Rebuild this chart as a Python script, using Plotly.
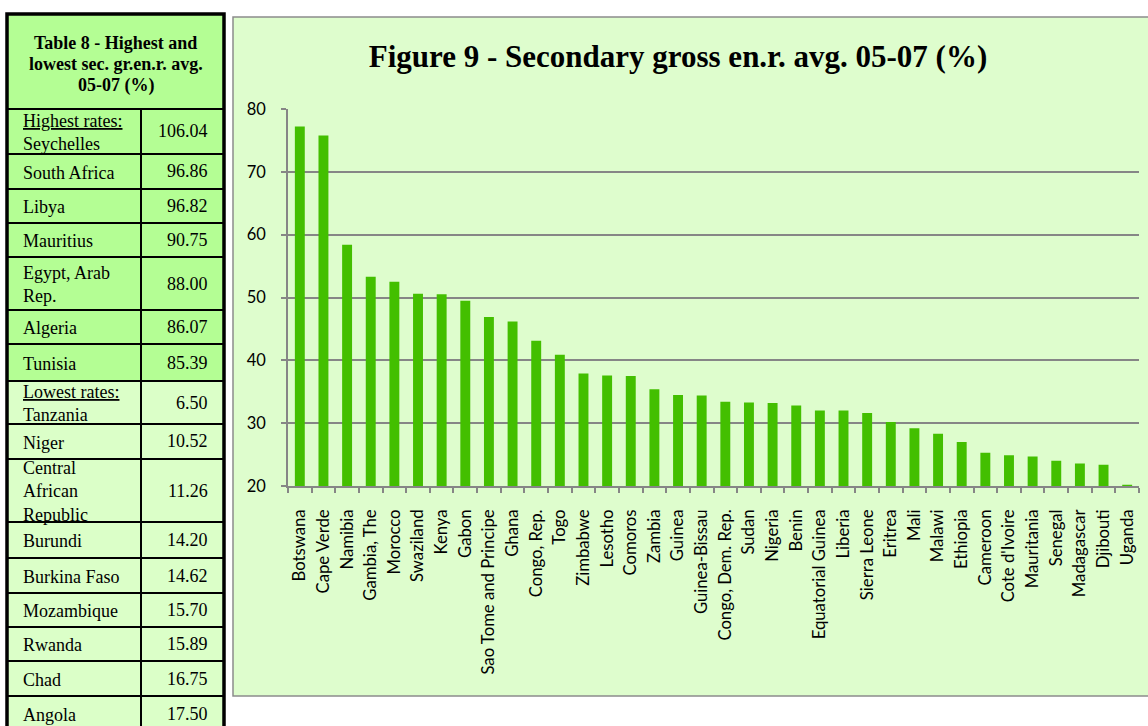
import textwrap
import plotly.graph_objects as go

# ---- Figure 9 data: secondary gross enrolment rate, average 2005-07 (%) ----
countries = [
    "Botswana", "Cape Verde", "Namibia", "Gambia, The", "Morocco", "Swaziland",
    "Kenya", "Gabon", "Sao Tome and Principe", "Ghana", "Congo, Rep.", "Togo",
    "Zimbabwe", "Lesotho", "Comoros", "Zambia", "Guinea", "Guinea-Bissau",
    "Congo, Dem. Rep.", "Sudan", "Nigeria", "Benin", "Equatorial Guinea",
    "Liberia", "Sierra Leone", "Eritrea", "Mali", "Malawi", "Ethiopia",
    "Cameroon", "Cote d'Ivoire", "Mauritania", "Senegal", "Madagascar",
    "Djibouti", "Uganda",
]
rates = [
    77.2, 75.8, 58.4, 53.3, 52.5, 50.6,
    50.5, 49.5, 46.9, 46.2, 43.1, 40.9,
    37.9, 37.6, 37.5, 35.4, 34.5, 34.4,
    33.4, 33.3, 33.2, 32.8, 32.0,
    32.0, 31.6, 30.2, 29.2, 28.3, 27.0,
    25.3, 24.9, 24.7, 24.0, 23.6,
    23.4, 20.2,
]
y_ticks = [20, 30, 40, 50, 60, 70, 80]

# ---- Table 8 data: highest and lowest rates ----
table_title = ["Table 8 - Highest and", "lowest sec. gr.en.r. avg.", "05-07 (%)"]
highest_countries = ["Seychelles", "South Africa", "Libya", "Mauritius",
                     "Egypt, Arab Rep.", "Algeria", "Tunisia"]
highest_rates = [106.04, 96.86, 96.82, 90.75, 88.00, 86.07, 85.39]
lowest_countries = ["Tanzania", "Niger", "Central African Republic", "Burundi",
                    "Burkina Faso", "Mozambique", "Rwanda", "Chad", "Angola"]
lowest_rates = [6.50, 10.52, 11.26, 14.20, 14.62, 15.70, 15.89, 16.75, 17.50]

# ---- page geometry (pixels) ----
W, H = 1148, 726


def px(x):
    return x / W


def py(y):
    return 1 - y / H


GRID = "#868686"
BAR = "#43BF00"
PANEL_BG = "#DEFDCD"
HI_BG = "#B4FE94"
LO_BG = "#DBFFC8"
SERIF = "Liberation Serif, Times New Roman, serif"
SANS = "Lato, Calibri, sans-serif"

fig = go.Figure()
fig.add_trace(go.Bar(
    x=countries, y=rates, marker=dict(color=BAR, line=dict(width=0)),
    hoverinfo="x+y",
))

shapes = []
annotations = []

# chart panel
shapes.append(dict(type="rect", xref="paper", yref="paper", layer="below",
                   x0=px(233), x1=px(1150), y0=py(17), y1=py(696),
                   fillcolor=PANEL_BG, line=dict(color="#8C8C8C", width=1.5)))

# ---- table ----
T_LEFT, T_RIGHT, T_DIV = 7, 224, 141
T_TOP, HEAD_BOTTOM = 14, 109


def cell_text(name, group=None):
    lines = textwrap.wrap(name, 12)
    if group:
        lines = ["<u>" + group + "</u>"] + lines
    return "<br>".join(lines)


rows = []
for i, (c, v) in enumerate(zip(highest_countries, highest_rates)):
    rows.append((cell_text(c, "Highest rates:" if i == 0 else None), v, HI_BG))
for i, (c, v) in enumerate(zip(lowest_countries, lowest_rates)):
    rows.append((cell_text(c, "Lowest rates:" if i == 0 else None), v, LO_BG))

# heights of the body rows, in pixels
row_heights = [45, 35, 34, 34, 53, 34, 37, 43, 35, 63, 36, 35, 34, 34, 35, 35]

# header cell, one annotation per line for tighter leading
shapes.append(dict(type="rect", xref="paper", yref="paper", layer="above",
                   x0=px(T_LEFT), x1=px(T_RIGHT), y0=py(T_TOP), y1=py(HEAD_BOTTOM),
                   fillcolor=HI_BG, line=dict(color="black", width=2)))
for k, line in enumerate(table_title):
    annotations.append(dict(
        xref="paper", yref="paper", x=px((T_LEFT + T_RIGHT) / 2), y=py(43 + 21.5 * k),
        xanchor="center", yanchor="middle", showarrow=False, align="center",
        text="<b>" + line + "</b>",
        font=dict(family=SERIF, size=18, color="black"),
    ))

top = HEAD_BOTTOM
for (label, value, bg), h in zip(rows, row_heights):
    bottom = top + h
    for x0, x1 in ((T_LEFT, T_DIV), (T_DIV, T_RIGHT)):
        shapes.append(dict(type="rect", xref="paper", yref="paper", layer="above",
                           x0=px(x0), x1=px(x1), y0=py(top), y1=py(bottom),
                           fillcolor=bg, line=dict(color="black", width=2)))
    mid = (top + bottom) / 2
    annotations.append(dict(
        xref="paper", yref="paper", x=px(21), y=py(mid + 1),
        xanchor="left", yanchor="middle", showarrow=False, align="left",
        text=label, font=dict(family=SERIF, size=18, color="black"),
    ))
    annotations.append(dict(
        xref="paper", yref="paper", x=px(210), y=py(mid),
        xanchor="right", yanchor="middle", showarrow=False, align="right",
        text=f"{value:.2f}", font=dict(family=SERIF, size=18, color="black"),
    ))
    top = bottom

# thick outer frame of the table
shapes.append(dict(type="rect", xref="paper", yref="paper", layer="above",
                   x0=px(T_LEFT), x1=px(T_RIGHT), y0=py(T_TOP), y1=py(top),
                   fillcolor="rgba(0,0,0,0)", line=dict(color="black", width=3.5)))

fig.update_layout(
    width=W, height=H,
    margin=dict(l=0, r=0, t=0, b=0),
    paper_bgcolor="white",
    plot_bgcolor="rgba(0,0,0,0)",
    showlegend=False,
    bargap=0.58,
    title=dict(
        text="<b>Figure 9 - Secondary gross en.r. avg. 05-07 (%)</b>",
        x=px(678), y=py(56), xref="paper", yref="paper",
        xanchor="center", yanchor="middle",
        font=dict(family=SERIF, size=31, color="black"),
    ),
    xaxis=dict(
        domain=[px(288), px(1139)],
        type="category",
        automargin=False,
        showgrid=False,
        showline=True, linecolor=GRID, linewidth=1.5,
        ticks="outside", tickson="boundaries", ticklen=5,
        tickcolor=GRID, tickwidth=1.5,
        tickangle=-90,
        ticklabelstandoff=15,
        tickfont=dict(family=SANS, size=16.7, color="black"),
    ),
    yaxis=dict(
        domain=[py(486), py(109)],
        range=[20, 80],
        automargin=False,
        tickvals=y_ticks,
        showgrid=True, gridcolor=GRID, gridwidth=1.5,
        zeroline=False,
        showline=True, linecolor=GRID, linewidth=1.5,
        ticks="outside", ticklen=5, tickcolor=GRID, tickwidth=1.5,
        ticklabelstandoff=12,
        tickfont=dict(family=SANS, size=16.5, color="black"),
    ),
    shapes=shapes,
    annotations=annotations,
)

fig.write_html("out.html")
